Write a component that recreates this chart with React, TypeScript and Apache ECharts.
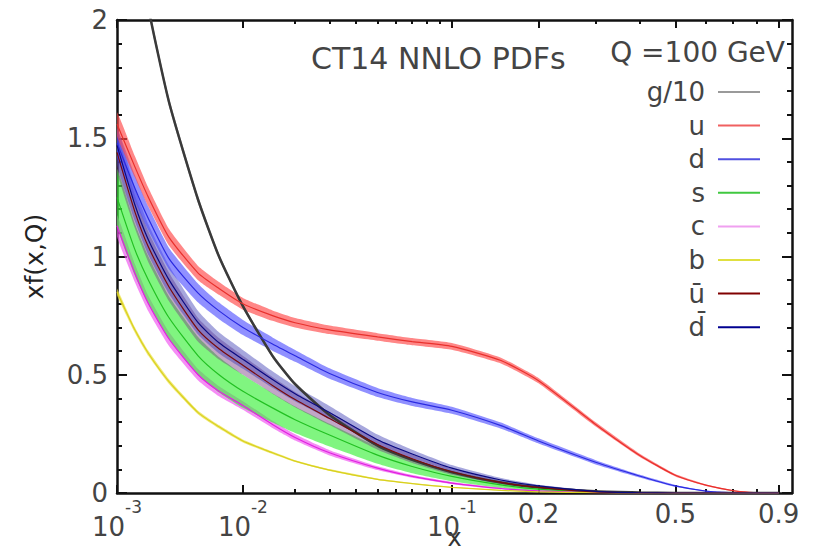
import React, { useEffect, useRef } from 'react';
import * as echarts from 'echarts';

// x^0.22 horizontal scale
const POW = 0.22;
const tr = (x: number) => Math.pow(x, POW);

const xGrid = [0.001, 0.0015, 0.002, 0.003, 0.005, 0.007, 0.01, 0.015, 0.02, 0.03, 0.05, 0.07, 0.1, 0.15, 0.2, 0.3, 0.4, 0.5, 0.6, 0.7, 0.8, 0.9];

const gluon10 = [2.95, 2.4, 2.05, 1.65, 1.24, 1.0, 0.79, 0.58, 0.46, 0.33, 0.2, 0.14, 0.088, 0.044, 0.024, 0.007, 0.002, 0.0005, 0, 0, 0, 0];
const gluonErr = [0.03, 0.025, 0.02, 0.018, 0.015, 0.012, 0.01, 0.009, 0.008, 0.007, 0.005, 0.004, 0.003, 0.002, 0.001, 0, 0, 0, 0, 0, 0, 0];

const uVal = [1.56, 1.38, 1.25, 1.08, 0.93, 0.865, 0.8, 0.75, 0.72, 0.69, 0.66, 0.64, 0.62, 0.56, 0.475, 0.29, 0.16, 0.075, 0.033, 0.01, 0.001, 0];
const uErr = [0.05, 0.045, 0.04, 0.035, 0.03, 0.027, 0.025, 0.022, 0.02, 0.018, 0.016, 0.015, 0.014, 0.012, 0.011, 0.009, 0.007, 0.005, 0.003, 0.002, 0.001, 0];

const dVal = [1.48, 1.29, 1.16, 0.99, 0.845, 0.77, 0.7, 0.63, 0.58, 0.505, 0.425, 0.385, 0.35, 0.285, 0.22, 0.13, 0.072, 0.03, 0.008, 0.001, 0, 0];
const dErr = [0.06, 0.055, 0.05, 0.045, 0.04, 0.035, 0.032, 0.028, 0.025, 0.022, 0.019, 0.017, 0.015, 0.013, 0.011, 0.009, 0.006, 0.004, 0.002, 0.001, 0, 0];

const sVal = [1.25, 1.03, 0.9, 0.74, 0.58, 0.5, 0.43, 0.36, 0.31, 0.245, 0.16, 0.112, 0.07, 0.034, 0.016, 0.004, 0.001, 0, 0, 0, 0, 0];
const sErr = [0.12, 0.11, 0.1, 0.09, 0.08, 0.075, 0.07, 0.062, 0.056, 0.048, 0.036, 0.028, 0.02, 0.012, 0.007, 0.003, 0.001, 0, 0, 0, 0, 0];

const cVal = [1.13, 0.93, 0.8, 0.65, 0.5, 0.43, 0.37, 0.29, 0.235, 0.17, 0.105, 0.07, 0.042, 0.019, 0.009, 0.002, 0, 0, 0, 0, 0, 0];
const cErr = [0.045, 0.038, 0.033, 0.03, 0.024, 0.021, 0.018, 0.015, 0.013, 0.011, 0.008, 0.006, 0.005, 0.004, 0.002, 0.001, 0, 0, 0, 0, 0, 0];

const bVal = [0.85, 0.69, 0.59, 0.47, 0.34, 0.28, 0.22, 0.17, 0.135, 0.097, 0.058, 0.04, 0.024, 0.011, 0.005, 0.001, 0, 0, 0, 0, 0, 0];
const bErr = [0.015, 0.012, 0.011, 0.01, 0.008, 0.007, 0.006, 0.005, 0.004, 0.004, 0.003, 0.002, 0.002, 0.001, 0.001, 0, 0, 0, 0, 0, 0, 0];

const ubarVal = [1.44, 1.19, 1.04, 0.87, 0.69, 0.61, 0.54, 0.455, 0.395, 0.315, 0.205, 0.145, 0.09, 0.045, 0.024, 0.005, 0.001, 0, 0, 0, 0, 0];
const dbarVal = [1.47, 1.22, 1.07, 0.9, 0.72, 0.635, 0.565, 0.48, 0.42, 0.34, 0.225, 0.165, 0.105, 0.055, 0.03, 0.007, 0.001, 0, 0, 0, 0, 0];
const barErr = [0.08, 0.07, 0.065, 0.06, 0.05, 0.045, 0.04, 0.035, 0.032, 0.028, 0.022, 0.018, 0.013, 0.008, 0.005, 0.002, 0.001, 0, 0, 0, 0, 0];

const xTickValues = [0.001, 0.01, 0.1, 0.2, 0.5, 0.9];
const xTickLabels = ['{b|10}{s|-3}', '{b|10}{s|-2}', '{b|10}{s|-1}', '{q|0.2}', '{q|0.5}', '{q|0.9}'];
const xMinorValues = [0.02, 0.03, 0.04, 0.05, 0.06, 0.07, 0.08, 0.09, 0.3, 0.4, 0.6, 0.7, 0.8];

const T_MIN = tr(0.001);
const T_MAX = 0.9923;

const FONT = 'DejaVu Sans';

type Flavor = { name: string; val: number[]; err: number[]; line: string; band: string; legend: string };

const flavors: Flavor[] = [
  { name: 'g/10', val: gluon10, err: gluonErr, line: '#3a3a3a', band: 'rgba(90,90,90,0.55)', legend: '#9a9a9a' },
  { name: 'u', val: uVal, err: uErr, line: '#e8302c', band: 'rgba(255,70,70,0.65)', legend: '#f06060' },
  { name: 'd', val: dVal, err: dErr, line: '#2a2ae0', band: 'rgba(70,70,255,0.6)', legend: '#5050e0' },
  { name: 's', val: sVal, err: sErr, line: '#22c022', band: 'rgba(60,240,60,0.65)', legend: '#40c840' },
  { name: 'c', val: cVal, err: cErr, line: '#e020e0', band: 'rgba(240,80,240,0.65)', legend: '#f0a0f0' },
  { name: 'b', val: bVal, err: bErr, line: '#d8d020', band: 'rgba(235,225,60,0.7)', legend: '#e0e040' },
  { name: '\u016B', val: ubarVal, err: barErr, line: '#7a0a0a', band: 'rgba(120,60,130,0.45)', legend: '#800000' },
  { name: 'd\u0304', val: dbarVal, err: barErr, line: '#0a0a80', band: 'rgba(60,60,180,0.45)', legend: '#000090' },
];

const bandOrder = ['b', 'c', 's', '\u016B', 'd\u0304', 'd', 'u', 'g/10'];

function makeBand(f: Flavor) {
  return {
    type: 'custom',
    name: f.name + ' band',
    silent: true,
    clip: true,
    z: 1,
    data: [[T_MIN, 0]],
    renderItem: (_params: any, api: any) => {
      const up = xGrid.map((x, i) => api.coord([tr(x), f.val[i] + f.err[i]]));
      const lo = xGrid.map((x, i) => api.coord([tr(x), Math.max(0, f.val[i] - f.err[i])])).reverse();
      return {
        type: 'polygon',
        shape: { points: up.concat(lo), smooth: 0.15 },
        style: { fill: f.band, stroke: null },
      };
    },
  };
}

function makeLine(f: Flavor) {
  return {
    type: 'line',
    name: f.name,
    z: 3,
    showSymbol: false,
    smooth: 0.2,
    clip: true,
    color: f.line,
    lineStyle: { color: f.line, width: f.name === 'g/10' ? 2.5 : 1.2 },
    data: xGrid.map((x, i) => [tr(x), f.val[i]]),
  };
}

const labelFor = (v: number) => {
  for (let i = 0; i < xTickValues.length; i++) {
    if (Math.abs(tr(xTickValues[i]) - v) < 1e-6) return xTickLabels[i];
  }
  return '';
};

const AXIS_COLOR = '#111';

function xAxisDef(position: 'top' | 'bottom', minor: boolean, labels: boolean) {
  return {
    type: 'value',
    position,
    min: T_MIN,
    max: T_MAX,
    splitLine: { show: false },
    axisLine: { show: !minor, onZero: false, lineStyle: { color: AXIS_COLOR, width: 2.5 } },
    axisTick: {
      show: true,
      inside: true,
      length: minor ? 4 : 8,
      lineStyle: { color: AXIS_COLOR, width: 2 },
      customValues: (minor ? xMinorValues : xTickValues).map(tr),
    },
    axisLabel: labels
      ? {
          show: true,
          margin: 5,
          hideOverlap: false,
          customValues: xTickValues.map(tr),
          formatter: labelFor,
          color: '#444',
          fontFamily: FONT,
          fontSize: 26,
          rich: {
            b: { fontFamily: FONT, fontSize: 26, color: '#444', lineHeight: 42, verticalAlign: 'bottom' },
            s: { fontFamily: FONT, fontSize: 17, color: '#444', lineHeight: 20, verticalAlign: 'top' },
            q: { fontFamily: FONT, fontSize: 26, color: '#444', lineHeight: 32 },
          },
        }
      : { show: false },
    ...(labels
      ? {
          name: 'x',
          nameLocation: 'middle',
          nameGap: 33,
          nameMoveOverlap: false,
          nameTextStyle: { fontFamily: FONT, fontSize: 24, lineHeight: 24, color: '#333' },
        }
      : {}),
  };
}

function yAxisDef(position: 'left' | 'right', labels: boolean) {
  return {
    type: 'value',
    position,
    min: 0,
    max: 2,
    interval: 0.5,
    splitLine: { show: false },
    axisLine: { show: true, onZero: false, lineStyle: { color: AXIS_COLOR, width: 2.5 } },
    axisTick: { show: true, inside: true, length: 10, lineStyle: { color: AXIS_COLOR, width: 2 } },
    minorTick: { show: true, splitNumber: 5, length: 5, lineStyle: { color: AXIS_COLOR, width: 2 } },
    axisLabel: labels
      ? { show: true, margin: 9, color: '#444', fontFamily: FONT, fontSize: 26 }
      : { show: false },
    ...(labels
      ? {
          name: 'xf(x,Q)',
          nameLocation: 'middle',
          nameGap: 70,
          nameMoveOverlap: false,
          nameTextStyle: { fontFamily: FONT, fontSize: 25, color: '#222' },
        }
      : {}),
  };
}

export default function App() {
  const ref = useRef<HTMLDivElement>(null);
  useEffect(() => {
    document.body.style.margin = '0';
    document.body.style.overflow = 'hidden';
    if (!ref.current) return;
    const chart = echarts.init(ref.current, undefined, { renderer: 'svg' });
    const bands = bandOrder.map((n) => makeBand(flavors.find((f) => f.name === n)!));
    const lines = flavors.map(makeLine);
    chart.setOption({
      animation: false,
      backgroundColor: '#ffffff',
      grid: { left: 117, right: 23, top: 20, bottom: 60, containLabel: false, outerBoundsMode: 'none' },
      title: [
        {
          text: 'CT14 NNLO PDFs',
          left: 311,
          top: 43,
          padding: 0,
          textStyle: { fontFamily: FONT, fontSize: 30, fontWeight: 'normal', color: '#444' },
        },
        {
          text: 'Q =100 GeV',
          right: 30,
          top: 38,
          padding: 0,
          textStyle: { fontFamily: FONT, fontSize: 28, fontWeight: 'normal', color: '#444' },
        },
      ],
      legend: {
        orient: 'vertical',
        right: 55,
        top: 79,
        padding: 0,
        align: 'right',
        icon: 'rect',
        itemWidth: 42,
        itemHeight: 2,
        itemGap: 7.6,
        selectedMode: false,
        textStyle: { fontFamily: FONT, fontSize: 26, color: '#444', lineHeight: 26, padding: [0, 8, 0, 0] },
        data: flavors.map((f) => ({ name: f.name, itemStyle: { color: f.legend } })),
      },
      xAxis: [
        xAxisDef('bottom', false, true),
        xAxisDef('bottom', true, false),
        xAxisDef('top', false, false),
        xAxisDef('top', true, false),
      ],
      yAxis: [yAxisDef('left', true), yAxisDef('right', false)],
      series: [...bands, ...lines],
    });
    return () => chart.dispose();
  }, []);
  return (
    <div
      ref={ref}
      style={{ position: 'fixed', left: 0, top: 0, width: 815, height: 553 }}
    />
  );
}
